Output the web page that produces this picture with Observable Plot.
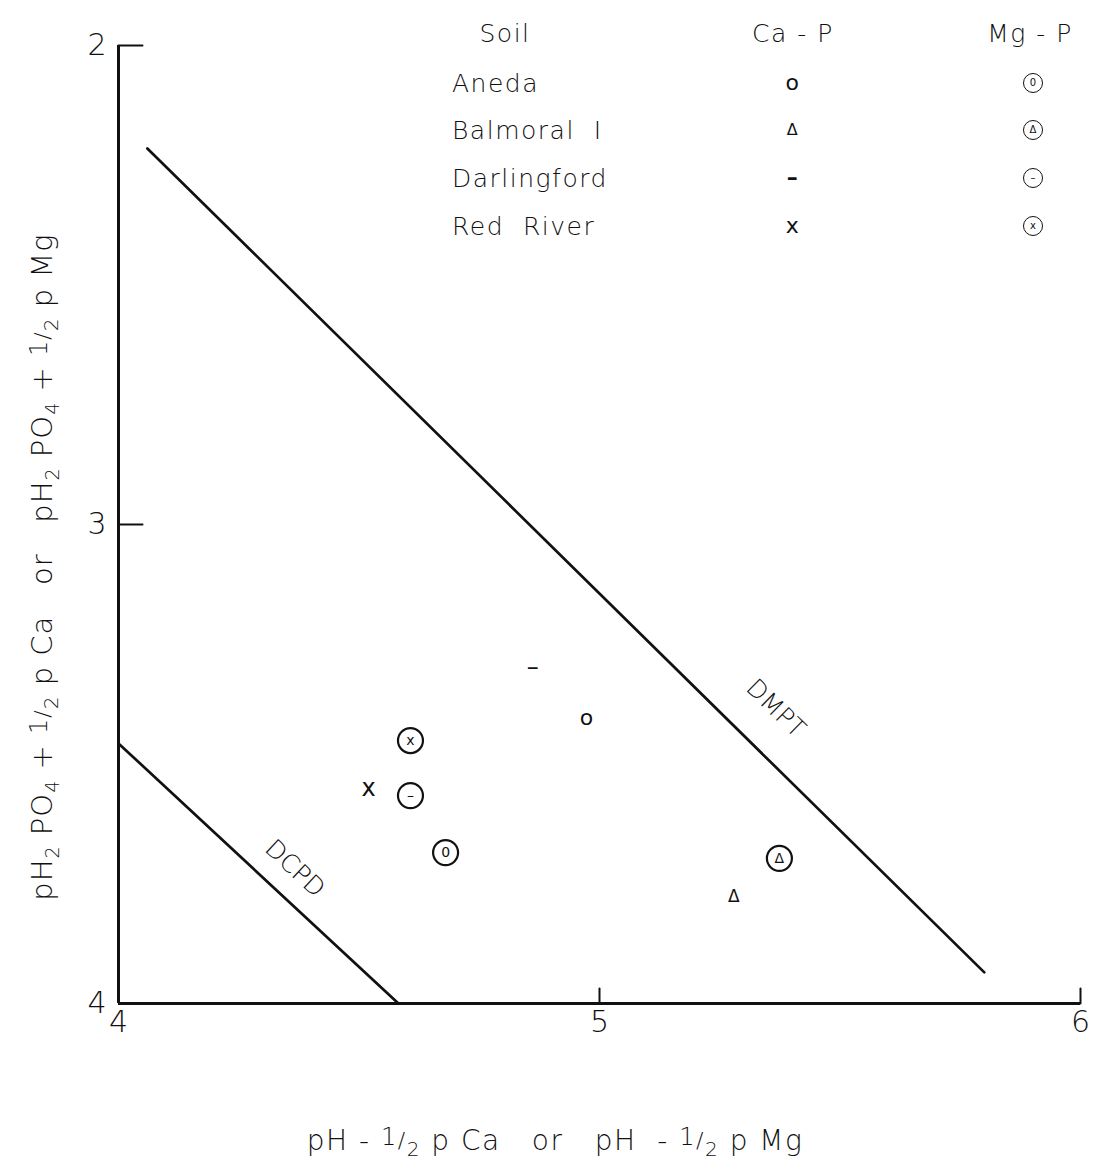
<!DOCTYPE html>
<html>
<head>
<meta charset="utf-8">
<script src="https://cdn.jsdelivr.net/npm/d3@7"></script>
<script src="https://cdn.jsdelivr.net/npm/@observablehq/plot@0.6"></script>
<style>
  body { margin: 0; background: #fff; }
  #chart { position: relative; width: 1094px; height: 1174px; font-family: "DejaVu Sans", sans-serif; color: #111; }
  #chart svg { display: block; }
  .lg { position: absolute; font-size: 25px; font-weight: 200; letter-spacing: 1.5px; white-space: pre; line-height: 1; }
  .ctr { transform: translate(-50%, -50%); }
  .lft { transform: translate(0, -50%); }
  .ring { position: absolute; width: 18px; height: 18px; border: 1.6px solid #111; border-radius: 50%;
          transform: translate(-50%, -50%); display: flex; align-items: center; justify-content: center;
          font-size: 10px; line-height: 1; }
</style>
</head>
<body>
<div id="chart"></div>
<script>
// Soils and the glyph that marks each one
const soils = ["Aneda", "Balmoral I", "Darlingford", "Red River"];
const caGlyphs = ["o", "Δ", "–", "x"];     // Ca-P points
const mgInner = ["0", "Δ", "–", "x"];      // glyph inside the Mg-P ring

// Ca-P equilibrium points
const caX = [4.973, 5.279, 4.861, 4.520];
const caY = [3.403, 3.777, 3.299, 3.551];

// Mg-P equilibrium points
const mgX = [4.680, 5.374, 4.607, 4.607];
const mgY = [3.685, 3.697, 3.566, 3.451];

// Solubility lines
const dmptX = [4.06, 5.80];
const dmptY = [2.215, 3.935];
const dcpdX = [4.0, 4.582];
const dcpdY = [3.457, 4.0];

// Axis ticks
const xTicks = [4, 5, 6];
const yTicks = [2, 3, 4];

const caData = soils.map((s, i) => ({soil: s, x: caX[i], y: caY[i], g: caGlyphs[i]}));
const mgData = soils.map((s, i) => ({soil: s, x: mgX[i], y: mgY[i], g: mgInner[i]}));
const dmpt = dmptX.map((x, i) => ({x, y: dmptY[i]}));
const dcpd = dcpdX.map((x, i) => ({x, y: dcpdY[i]}));

// label anchor: a point a fraction of the way along a line
const along = (pts, t) => ({x: pts[0].x + t * (pts[1].x - pts[0].x), y: pts[0].y + t * (pts[1].y - pts[0].y)});

const tickShape = {draw(ctx, l) { ctx.moveTo(0, 0); ctx.lineTo(0, -l); }};
const font = "DejaVu Sans, sans-serif";

const plot = Plot.plot({
  width: 1094,
  height: 1174,
  marginLeft: 118,
  marginRight: 14,
  marginTop: 45,
  marginBottom: 171,
  style: {fontFamily: font, background: "#fff", color: "#111"},
  x: {domain: [4, 6], axis: null},
  y: {domain: [2, 4], reverse: true, axis: null},
  marks: [
    // axis lines
    Plot.ruleX([xTicks[0]], {stroke: "#111", strokeWidth: 3}),
    Plot.ruleY([yTicks[yTicks.length - 1]], {stroke: "#111", strokeWidth: 3}),
    // inward ticks
    Plot.vector(yTicks.slice(0, -1), {y: d => d, frameAnchor: "left", rotate: 90, length: 24, anchor: "start", shape: tickShape, stroke: "#111", strokeWidth: 2}),
    Plot.vector(xTicks.slice(1), {x: d => d, frameAnchor: "bottom", rotate: 0, length: 15, anchor: "start", shape: tickShape, stroke: "#111", strokeWidth: 2}),
    // tick labels
    Plot.text(yTicks, {y: d => d, frameAnchor: "left", dx: -12, textAnchor: "end", text: d => d, fontSize: 30, fontWeight: 200, fill: "#111"}),
    Plot.text(xTicks, {x: d => d, frameAnchor: "bottom", dy: 28, text: d => d, fontSize: 30, fontWeight: 200, fill: "#111"}),
    // solubility lines
    Plot.line(dmpt, {x: "x", y: "y", stroke: "#111", strokeWidth: 2.7}),
    Plot.line(dcpd, {x: "x", y: "y", stroke: "#111", strokeWidth: 2.7}),
    Plot.text([along(dmpt, 0.716)], {x: "x", y: "y", text: () => "DMPT", rotate: 44.5, dx: 29, dy: -30, fontSize: 25, fontWeight: 200, fill: "#111"}),
    Plot.text([along(dcpd, 0.562)], {x: "x", y: "y", text: () => "DCPD", rotate: 43, dx: 19, dy: -21, fontSize: 25, fontWeight: 200, fill: "#111"}),
    // Ca-P points
    Plot.text(caData, {x: "x", y: "y", text: "g", fontSize: d => d.g === "Δ" ? 17 : d.g === "o" ? 22 : 24, fontWeight: d => d.g === "–" ? 700 : 400, fill: "#111"}),
    // Mg-P points: ring with an inner glyph
    Plot.dot(mgData, {x: "x", y: "y", r: 12.5, stroke: "#111", strokeWidth: 2.2, fill: "none"}),
    Plot.text(mgData, {x: "x", y: "y", text: "g", fontSize: 14, fill: "#111"})
  ]
});

const root = d3.select("#chart");
root.node().appendChild(plot);

// axis titles with sub/superscript pieces
const svg = d3.select(plot);
function richText(parent, segs) {
  let off = 0;
  for (const s of segs) {
    const o = s.o || 0;
    parent.append("tspan").attr("dy", o - off).attr("font-size", s.size || null).text(s.t);
    off = o;
  }
}
const half = [{t: "1", o: -5, size: 24}, {t: "/", o: -2, size: 22}, {t: "2", o: 6, size: 20}];
const sub = t => ({t, o: 7, size: 19});

const xt = svg.append("text")
  .attr("x", 555).attr("y", 1150).attr("text-anchor", "middle")
  .attr("font-size", 28).attr("font-weight", 200).attr("fill", "#111")
  .style("white-space", "pre").style("letter-spacing", "1.5px");
richText(xt, [{t: "pH - "}, ...half, {t: " p Ca   or   pH  - "}, ...half, {t: " p Mg"}]);

const yt = svg.append("text")
  .attr("transform", "translate(52,567) rotate(-90)").attr("text-anchor", "middle")
  .attr("font-size", 29).attr("font-weight", 200).attr("fill", "#111")
  .style("white-space", "pre").style("letter-spacing", "1px");
richText(yt, [{t: "pH"}, sub("2"), {t: " PO"}, sub("4"), {t: " + "}, ...half, {t: " p Ca   or   pH"},
  sub("2"), {t: " PO"}, sub("4"), {t: " + "}, ...half, {t: " p Mg"}]);

// legend table in the upper right of the plot area
const rowY = [83, 130, 178, 226];
const headY = 33;
root.append("div").attr("class", "lg ctr").style("left", "505px").style("top", headY + "px").text("Soil");
root.append("div").attr("class", "lg ctr").style("left", "793px").style("top", headY + "px").text("Ca - P");
root.append("div").attr("class", "lg ctr").style("left", "1030px").style("top", headY + "px").text("Mg - P");
soils.forEach((s, i) => {
  root.append("div").attr("class", "lg lft").style("left", "452px").style("top", rowY[i] + "px").text(s.replace(" ", "  "));
  root.append("div").attr("class", "lg ctr")
    .style("left", "793px").style("top", rowY[i] + "px")
    .style("font-size", caGlyphs[i] === "Δ" ? "16px" : "22px")
    .style("font-weight", caGlyphs[i] === "–" ? 700 : 400)
    .text(caGlyphs[i]);
  root.append("div").attr("class", "ring")
    .style("left", "1033px").style("top", rowY[i] + "px")
    .text(mgInner[i]);
});
</script>
</body>
</html>
